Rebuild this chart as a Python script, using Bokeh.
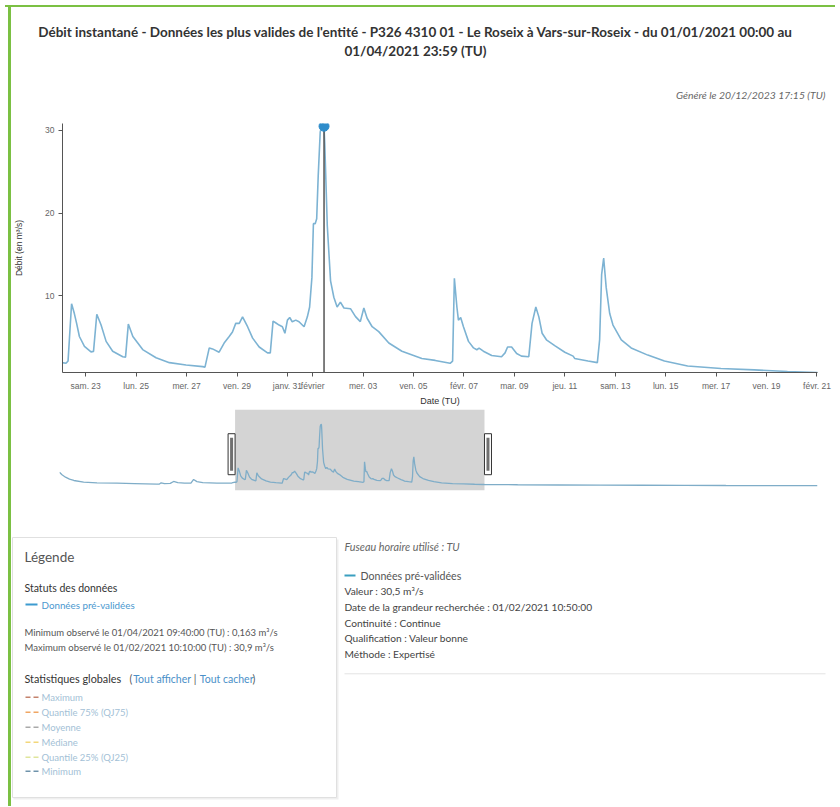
import pandas as pd
from bokeh.plotting import figure
from bokeh.models import Range1d, FixedTicker, BoxAnnotation, ColumnDataSource, Spacer
from bokeh.layouts import column, row
from bokeh.core.properties import value
from bokeh.embed import file_html
from bokeh.resources import INLINE

# ---------------- data ----------------
START = pd.Timestamp("2021-01-01 00:00")

# days since 01/01/2021 00:00 (TU)
day_offsets = [
    0.00, 0.30, 0.72, 1.20, 1.72, 2.90, 4.50, 6.90, 9.00, 11.70, 12.00, 12.20, 12.60,
    13.30, 13.70, 14.20, 15.00, 15.80, 16.10, 16.50, 17.20, 18.90, 20.70,
    21.06, 21.22, 21.30, 21.44, 21.55, 21.64, 21.75, 21.95, 22.21, 22.31, 22.44, 22.61,
    22.81, 23.07, 23.47, 23.58, 23.69, 23.87, 24.26, 24.79, 25.32, 25.98, 26.64, 26.73,
    26.90, 27.03, 27.29, 27.49, 27.69, 27.82, 27.95, 28.09, 28.22, 28.42, 28.62, 28.88,
    29.21, 29.32, 29.43, 29.53, 29.67, 29.80, 29.90, 30.00, 30.09, 30.19, 30.33, 30.46,
    30.66, 30.79, 30.88, 30.97, 31.03, 31.10, 31.16, 31.22, 31.30, 31.40, 31.45, 31.48,
    31.58, 31.71, 31.84, 31.97, 32.10, 32.24, 32.50, 32.70, 32.89, 33.03, 33.16, 33.36,
    33.62, 34.02, 34.54, 35.33, 35.86, 36.45, 36.55, 36.62, 36.72, 36.78, 36.87, 36.98,
    37.18, 37.38, 37.51, 37.60, 37.77, 38.10, 38.49, 38.63, 38.73, 38.89, 39.09, 39.28,
    39.57, 39.70, 39.85, 39.97, 40.10, 40.27, 40.60, 41.00, 41.33, 41.39, 41.92, 42.29,
    42.38, 42.46, 42.54, 42.64, 42.78, 42.91, 43.24, 43.63, 44.29, 44.95, 45.87, 47.19,
    48.51, 49.83, 51.01, 52.50, 55.00, 60.00, 65.00, 70.00, 75.00, 80.00, 85.00, 90.40,
    91.00,
]
# Débit (m3/s)
debit_values = [
    6.90, 5.60, 4.40, 3.40, 2.75, 1.95, 1.60, 1.40, 1.20, 0.95, 1.00, 1.60, 1.20,
    1.30, 2.25, 1.70, 1.40, 1.50, 3.25, 2.20, 1.70, 1.45, 1.50,
    1.94, 1.86, 2.13, 9.05, 7.87, 6.68, 5.10, 3.91, 3.24, 3.30, 7.79, 6.48,
    4.51, 3.32, 2.65, 2.60, 6.60, 5.10, 3.52, 2.53, 1.94, 1.66, 1.46, 1.40,
    3.72, 3.60, 3.20, 4.31, 5.10, 5.65, 6.68, 6.68, 7.47, 6.28, 4.90, 3.83,
    3.12, 3.12, 6.96, 6.76, 6.48, 6.28, 5.49, 7.08, 7.39, 6.88, 7.08, 6.88,
    6.28, 7.47, 8.66, 12.21, 18.73, 18.73, 19.33, 24.47, 29.80, 30.90, 30.50, 28.40,
    18.50, 11.82, 9.84, 8.66, 9.25, 8.54, 8.46, 7.50, 6.90, 8.54, 7.30, 6.28,
    5.69, 4.31, 3.32, 2.45, 2.21, 1.86, 2.13, 12.13, 8.66, 7.08, 7.39, 6.28,
    4.51, 3.72, 3.50, 3.70, 3.32, 2.81, 2.65, 3.12, 3.83, 3.83, 3.04, 2.73,
    2.65, 6.68, 8.66, 7.47, 5.49, 4.70, 3.99, 3.20, 2.73, 2.45, 2.13, 1.94,
    4.70, 12.61, 14.58, 11.03, 7.87, 6.48, 4.70, 3.72, 2.85, 2.13, 1.54, 1.23,
    1.07, 0.87, 0.75, 0.70, 0.62, 0.50, 0.42, 0.36, 0.30, 0.25, 0.21, 0.163,
    0.17,
]

view_start_day = 21.08
view_end_day = 51.02
full_start_day = 0.0
full_end_day = 91.0

hover_day = 31 + (10 * 60 + 50) / 1440.0   # 01/02/2021 10:50
hover_value = 30.5

tick_days = [22, 24, 26, 28, 30, 31, 33, 35, 37, 39, 41, 43, 45, 47, 49, 51]
tick_labels = ["sam. 23", "lun. 25", "mer. 27", "ven. 29", "janv. 31", "février",
               "mer. 03", "ven. 05", "févr. 07", "mar. 09", "jeu. 11", "sam. 13",
               "lun. 15", "mer. 17", "ven. 19", "févr. 21"]
y_ticks = [10, 20, 30]
y_min, y_max = 0.75, 30.83
nav_y_min, nav_y_max = -2.25, 38.2

stat_labels = ["Maximum", "Quantile 75% (QJ75)", "Moyenne", "Médiane",
               "Quantile 25% (QJ25)", "Minimum"]
stat_colors = ["#c4826c", "#f0a663", "#a9a9a9", "#f3d77a", "#dfe59b", "#6f93ab"]

info_lines = ["Valeur : 30,5 m³/s",
              "Date de la grandeur recherchée : 01/02/2021 10:50:00",
              "Continuité : Continue",
              "Qualification : Valeur bonne",
              "Méthode : Expertisé"]


def to_ms(day):
    return (START + pd.Timedelta(days=day)).value / 1e6


BODY = "Lato"
AXIS = "Liberation Sans"
LINE = "#7db3d3"
GREEN = "#7bc043"

src = ColumnDataSource(dict(x=[to_ms(d) for d in day_offsets], y=debit_values))

W = 821
X0 = 11  # page x of the figures' left edge


def canvas_fig(height, y_top):
    f = figure(width=W, height=height, x_range=Range1d(X0, X0 + W),
               y_range=Range1d(y_top + height, y_top),
               x_axis_location=None, y_axis_location=None, toolbar_location=None,
               output_backend="svg", min_border=0, title=None, frame_align=False)
    f.grid.visible = False
    f.outline_line_color = None
    f.background_fill_color = "white"
    f.border_fill_color = "white"
    return f


def txt(f, x, y, s, size, color, style="normal", align="left", font=BODY):
    f.text(x=[x], y=[y], text=[s], text_font=value(font), text_font_size=f"{size}px",
           text_color=color, text_font_style=style, text_align=align,
           text_baseline="middle")


# ---------------- title area ----------------
t_fig = canvas_fig(103, 7)
txt(t_fig, 415, 31, "Débit instantané - Données les plus valides de l'entité - P326 4310 01 - "
    "Le Roseix à Vars-sur-Roseix - du 01/01/2021 00:00 au", 13.5, "#333333", "bold", "center")
txt(t_fig, 415, 50, "01/04/2021 23:59 (TU)", 13.5, "#333333", "bold", "center")
txt(t_fig, 825, 94, "Généré le 20/12/2023 17:15 (TU)", 10.4, "#666666", "italic", "right")

# ---------------- main chart ----------------
p = figure(width=W, height=298, x_axis_type="datetime",
           x_range=Range1d(to_ms(view_start_day), to_ms(view_end_day)),
           y_range=Range1d(y_min, y_max), title=None, frame_align=False,
           output_backend="svg", toolbar_location=None,
           min_border_left=49, min_border_right=15, min_border_top=13, min_border_bottom=31)
p.grid.visible = False
p.outline_line_color = None
p.line("x", "y", source=src, line_color=LINE, line_width=1.6)
hx = to_ms(hover_day)
p.segment(x0=[hx], y0=[hover_value], x1=[hx], y1=[y_min], line_color="#555555", line_width=1.5)
p.scatter(x=[hx], y=[hover_value], size=10, fill_color="#2f8dcb", line_color="#2f8dcb")

xa = p.xaxis[0]
xa.ticker = FixedTicker(ticks=[to_ms(d) for d in tick_days])
xa.major_label_overrides = {to_ms(d): lab for d, lab in zip(tick_days, tick_labels)}
xa.axis_label = "Date (TU)"
ya = p.yaxis[0]
ya.ticker = FixedTicker(ticks=y_ticks)
ya.axis_label = "Débit (en m³/s)"
for ax in (xa, ya):
    ax.axis_line_color = "#555555"
    ax.major_tick_line_color = "#555555"
    ax.minor_tick_line_color = None
    ax.major_tick_out = 4
    ax.major_tick_in = 0
    ax.major_label_text_font = AXIS
    ax.major_label_text_font_size = "8.5px"
    ax.major_label_text_color = "#666666"
    ax.axis_label_text_font = AXIS
    ax.axis_label_text_font_size = "8.5px"
    ax.axis_label_text_color = "#333333"
    ax.axis_label_text_font_style = "normal"
xa.major_label_standoff = 4
xa.axis_label_standoff = 2
xa.axis_label_text_font_size = "9px"
ya.major_label_standoff = 4
ya.axis_label_standoff = 18

# ---------------- navigator ----------------
nav = figure(width=W, height=122,
             x_range=Range1d(to_ms(full_start_day), to_ms(full_end_day)),
             y_range=Range1d(nav_y_min, nav_y_max), title=None, frame_align=False,
             x_axis_location=None, y_axis_location=None,
             output_backend="svg", toolbar_location=None,
             min_border_left=48, min_border_right=15, min_border_top=1, min_border_bottom=40)
nav.grid.visible = False
nav.outline_line_color = None
nav.add_layout(BoxAnnotation(left=to_ms(view_start_day), right=to_ms(view_end_day),
                             fill_color="#d4d4d4", fill_alpha=1.0, line_color=None,
                             level="underlay"))
nav.line("x", "y", source=src, line_color="#7fadc8", line_width=1.3)
nav_frame_w = W - 48 - 15
ms_per_px = (to_ms(full_end_day) - to_ms(full_start_day)) / nav_frame_w
hw = 7 * ms_per_px
handle_x = [to_ms(view_start_day) - hw / 2, to_ms(view_end_day) + hw / 2]
handle_y = (nav_y_max + nav_y_min) / 2 - 2.1
nav.rect(x=handle_x, y=[handle_y] * 2, width=hw, height=41, height_units="screen",
         fill_color="white", line_color="#333333", line_width=1)
nav.rect(x=handle_x, y=[handle_y] * 2, width=3 * ms_per_px, height=33, height_units="screen",
         fill_color="#707070", line_color=None)

# ---------------- bottom panels ----------------
c = canvas_fig(276, 530)
# legend box (shadow + box)
c.quad(left=[13], right=[338], top=[539], bottom=[799], fill_color="#efefef", line_color=None)
c.quad(left=[12], right=[336], top=[537], bottom=[797], fill_color="white", line_color="#e0e0e0")
txt(c, 24, 556.7, "Légende", 13.5, "#555555")
txt(c, 24, 587.3, "Statuts des données", 10.5, "#333333")
c.segment(x0=[25], y0=[604], x1=[37], y1=[604], line_color="#3d9bd0", line_width=2)
txt(c, 41, 604, "Données pré-validées", 9.8, "#4a98cf")
txt(c, 24, 631.7, "Minimum observé le 01/04/2021 09:40:00 (TU) : 0,163 m³/s", 9.5, "#555555")
txt(c, 24, 647.3, "Maximum observé le 01/02/2021 10:10:00 (TU) : 30,9 m³/s", 9.5, "#555555")
txt(c, 24, 678.3, "Statistiques globales", 10.8, "#333333")
txt(c, 129, 678.3, "(", 10.5, "#555555")
txt(c, 132.7, 678.3, "Tout afficher", 10.5, "#4a90c8")
txt(c, 193.3, 678.3, "|", 10.5, "#555555")
txt(c, 199.3, 678.3, "Tout cacher", 10.5, "#4a90c8")
txt(c, 252, 678.3, ")", 10.5, "#555555")
stat_y = [696.7, 711.7, 726.7, 741.7, 756.7, 770.7]
c.segment(x0=[25] * 6, y0=stat_y, x1=[38] * 6, y1=stat_y, line_color=stat_colors,
          line_width=1.5, line_dash="5 3")
c.text(x=[41] * 6, y=stat_y, text=stat_labels, text_font=value(BODY), text_font_size="9.5px",
       text_color="#a3bfd6", text_baseline="middle")

# info panel
txt(c, 344, 546, "Fuseau horaire utilisé : TU", 10.8, "#666666", "italic")
c.segment(x0=[344], y0=[575], x1=[355], y1=[575], line_color="#3a9fc0", line_width=2)
txt(c, 360, 575, "Données pré-validées", 10.6, "#555555")
info_y = [590.7, 606.7, 622.3, 637.7, 653.3]
c.text(x=[344] * 5, y=info_y, text=info_lines, text_font=value(BODY), text_font_size="10.2px",
       text_color="#444444", text_baseline="middle")
c.segment(x0=[344], y0=[673.3], x1=[825], y1=[673.3], line_color="#e3e3e3", line_width=1)

# ---------------- page layout ----------------
top_row = row(Spacer(width=5, height=2), Spacer(width=830, height=2,
                                                styles={"background-color": GREEN}))
left_bar = Spacer(width=3, height=103 + 298 + 122 + 276, styles={"background-color": GREEN})
layout = column(Spacer(width=835, height=5), top_row,
                row(Spacer(width=8, height=10), left_bar, column(t_fig, p, nav, c)))

open("out.html", "w").write(file_html(layout, INLINE))
